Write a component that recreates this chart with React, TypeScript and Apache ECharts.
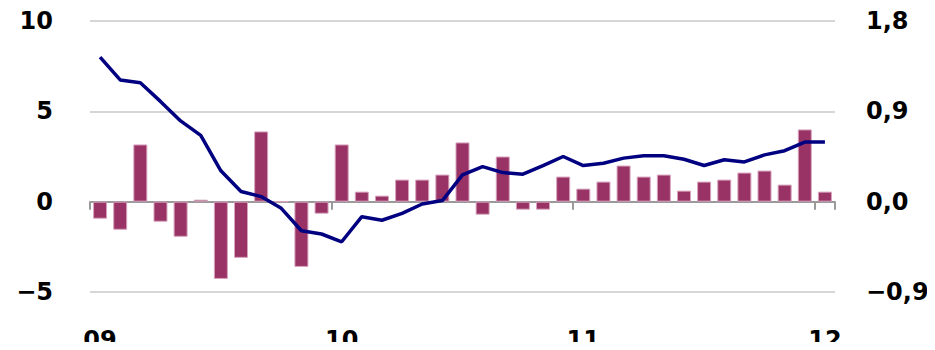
import React, { useEffect, useRef } from "react";
import * as echarts from "echarts";

const categories: string[] = [
  "09", "", "", "", "", "", "", "", "", "", "", "",
  "10", "", "", "", "", "", "", "", "", "", "", "",
  "11", "", "", "", "", "", "", "", "", "", "", "",
  "12",
];

// Line (left axis)
const lineValues: number[] = [
  8.0, 6.74, 6.58, 5.55, 4.47, 3.67, 1.71, 0.56, 0.28, -0.37, -1.61, -1.79,
  -2.22, -0.83, -1.03, -0.65, -0.13, 0.06, 1.48, 1.94, 1.61, 1.52, 2.0, 2.5,
  2.0, 2.13, 2.41, 2.54, 2.54, 2.35, 2.0, 2.32, 2.2, 2.59, 2.82, 3.3, 3.3,
];

// Bars (right axis)
const barValues: number[] = [
  -0.17, -0.28, 0.57, -0.2, -0.35, 0.02, -0.77, -0.56, 0.7, 0.0, -0.65, -0.12,
  0.57, 0.1, 0.06, 0.22, 0.22, 0.27, 0.59, -0.13, 0.45, -0.08, -0.08, 0.25,
  0.13, 0.2, 0.36, 0.25, 0.27, 0.11, 0.2, 0.22, 0.29, 0.31, 0.17, 0.72, 0.1,
];

const FONT = "DejaVu Sans";

function fmtLeft(v: number): string {
  const r = Math.round(v);
  return r < 0 ? "\u2212" + Math.abs(r) : String(r);
}
function fmtRight(v: number): string {
  const r = Math.round(v * 10) / 10;
  if (Math.abs(r) < 1e-9) return "0,0";
  const s = Math.abs(r).toFixed(1).replace(".", ",");
  return r < 0 ? "\u2212" + s : s;
}

export default function App() {
  const ref = useRef<HTMLDivElement>(null);
  useEffect(() => {
    if (!ref.current) return;
    const chart = echarts.init(ref.current, null, { renderer: "svg" });
    chart.setOption({
      animation: false,
      backgroundColor: "#ffffff",
      grid: {
        left: 90,
        right: 100,
        top: 21,
        bottom: 58,
        containLabel: false,
        outerBoundsMode: "none",
      },
      xAxis: [
        {
          type: "category",
          data: categories,
          boundaryGap: true,
          position: "bottom",
          axisLine: { onZero: true, lineStyle: { color: "#9a9a9a", width: 2 } },
          axisTick: {
            show: true,
            interval: 11,
            length: 8,
            lineStyle: { color: "#9a9a9a", width: 2 },
          },
          axisLabel: { show: false },
          splitLine: { show: false },
        },
        {
          type: "category",
          data: categories,
          boundaryGap: true,
          position: "bottom",
          axisLine: { show: false, onZero: false },
          axisTick: { show: false },
          axisLabel: {
            interval: 11,
            margin: 36,
            fontFamily: FONT,
            fontSize: 24,
            fontWeight: "bold",
            color: "#000",
          },
          splitLine: { show: false },
        },
      ],
      yAxis: [
        {
          type: "value",
          position: "left",
          min: -5,
          max: 10,
          interval: 5,
          axisLine: { show: false },
          axisTick: { show: false },
          axisLabel: {
            margin: 37,
            fontFamily: FONT,
            fontSize: 24,
            fontWeight: "bold",
            color: "#000",
            padding: [0, 0, 4, 0],
            formatter: fmtLeft,
          },
          splitLine: { show: true, lineStyle: { color: "#c8c8c8", width: 1.5 } },
        },
        {
          type: "value",
          position: "right",
          min: -0.9,
          max: 1.8,
          interval: 0.9,
          axisLine: { show: false },
          axisTick: { show: false },
          axisLabel: {
            margin: 31,
            fontFamily: FONT,
            fontSize: 24,
            fontWeight: "bold",
            color: "#000",
            padding: [0, 0, 4, 0],
            formatter: fmtRight,
          },
          splitLine: { show: false },
        },
      ],
      series: [
        {
          type: "bar",
          xAxisIndex: 0,
          yAxisIndex: 1,
          data: barValues,
          barWidth: 14,
          itemStyle: { color: "#993366", borderColor: "#d7a3bd", borderWidth: 1 },
          z: 2,
        },
        {
          type: "line",
          xAxisIndex: 0,
          yAxisIndex: 0,
          data: lineValues,
          showSymbol: false,
          symbol: "none",
          lineStyle: { color: "#000080", width: 3.5 },
          z: 3,
        },
      ],
    });
    return () => chart.dispose();
  }, []);
  return <div ref={ref} style={{ width: 935, height: 350, margin: -8 }} />;
}
